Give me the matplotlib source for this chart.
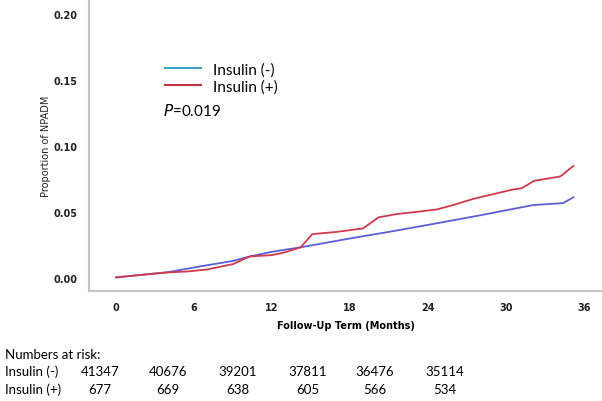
import matplotlib.pyplot as plt
from matplotlib.lines import Line2D

# Cumulative proportion of NPADM by follow-up month
months_neg = [0, 2, 4, 6.5, 9, 10.3, 12, 14.2, 18, 21, 24.4, 28, 32.1, 34.4, 35.2]
prop_neg = [0.0005, 0.0025, 0.0045, 0.0089, 0.013, 0.0164, 0.0199, 0.0233,
            0.0300, 0.0350, 0.0410, 0.0475, 0.0553, 0.0568, 0.0612]

months_pos = [0, 2, 4, 5.5, 7, 9, 10.3, 12, 13, 14.2, 15.1, 17, 19.0, 20.2, 21.6,
              23, 24.7, 26, 27.5, 29, 30.5, 31.2, 32.2, 33, 34.2, 35.2]
prop_pos = [0.0005, 0.0025, 0.0043, 0.0050, 0.0065, 0.0106, 0.0164, 0.0174, 0.0195,
            0.0233, 0.0333, 0.0350, 0.0376, 0.0460, 0.0485, 0.0500, 0.0520, 0.0555,
            0.0600, 0.0635, 0.0670, 0.0680, 0.0737, 0.0750, 0.0770, 0.0850]

row_labels = ["Insulin (-)", "Insulin (+)"]
at_risk_neg = [41347, 40676, 39201, 37811, 36476, 35114]
at_risk_pos = [677, 669, 638, 605, 566, 534]

fig = plt.figure(figsize=(6.02, 4.02), dpi=100)
ax = fig.add_axes([0.148, 0.2736, 0.852, 0.7264])

ax.plot(months_neg, prop_neg, color="#5a5fd6", lw=1.3)
ax.plot(months_pos, prop_pos, color="#cf3a4c", lw=1.3)

ax.set_xlim(-2.08, 37.4)
ax.set_ylim(-0.0098, 0.2114)
ax.set_xticks([0, 6, 12, 18, 24, 30, 36])
ax.set_yticks([0.0, 0.05, 0.10, 0.15, 0.20])
ax.set_yticklabels(["0.00", "0.05", "0.10", "0.15", "0.20"])
ax.tick_params(length=0, labelsize=7, pad=8, colors="#222222")
for lbl in ax.get_xticklabels() + ax.get_yticklabels():
    lbl.set_fontweight("bold")
ax.tick_params(axis="x", pad=8)

for side in ["top", "right"]:
    ax.spines[side].set_visible(False)
for side in ["left", "bottom"]:
    ax.spines[side].set_color("#c4c4c4")
    ax.spines[side].set_linewidth(1.5)

ax.set_xlabel("Follow-Up Term (Months)", fontsize=7, fontweight="bold", labelpad=6)
ax.set_ylabel("Proportion of NPADM", fontsize=7, labelpad=2, color="#222222")

handles = [Line2D([], [], color="#3fa3cf", lw=1.5),
           Line2D([], [], color="#c0303f", lw=1.5)]
ax.legend(handles, row_labels, loc="upper left", bbox_to_anchor=(0.122, 0.83),
          frameon=False, handlelength=2.3, handletextpad=0.8,
          labelspacing=0.15, prop={"family": "Lato", "size": 11})
ax.text(0.144, 0.62, "$P$=0.019", transform=ax.transAxes, fontsize=11,
        family="Lato", va="center")

# Numbers at risk table below the axis
fig.text(5 / 602, 1 - 355 / 402, "Numbers at risk:", fontsize=9.5, family="Lato", va="center")
col_x = [100, 168, 238, 308, 375, 445]
for row, (label, vals) in enumerate(zip(row_labels, [at_risk_neg, at_risk_pos])):
    yy = 1 - (372 + row * 18) / 402
    fig.text(5 / 602, yy, label, fontsize=9.5, family="Lato", va="center")
    for cx, v in zip(col_x, vals):
        fig.text(cx / 602, yy, str(v), fontsize=9.5, family="Lato", va="center", ha="center")

fig.savefig("out.png", dpi=100)
